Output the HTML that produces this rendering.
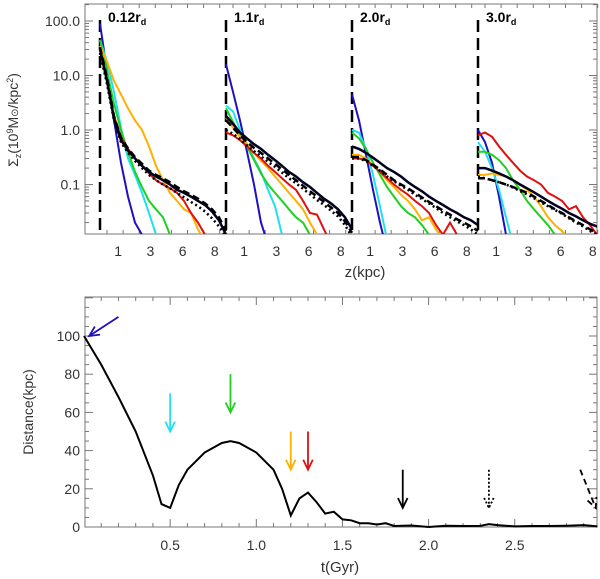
<!DOCTYPE html>
<html><head><meta charset="utf-8"><style>
body{margin:0;background:#fff;}
svg{display:block;font-family:"Liberation Sans",sans-serif;}
</style></head><body>
<svg id="fig" width="600" height="579" viewBox="0 0 600 579">
<g id="topPanel"></g>
<g id="botPanel"></g>
</svg>
<script>
// ---------- top panel data (z step 0.5 kpc, starting at z=0) ----------
const panelLabels = ['0.12', '1.1', '2.0', '3.0'];
const zTickVals = [1.3, 3.6, 5.9, 8.2];
const zTickLabels = ['1', '3', '6', '8'];
const yTickVals = [100, 10, 1, 0.1];
const yTickLabels = ['100.0', '10.0', '1.0', '0.1'];
const seriesColors = ['#2010c0', '#20e0f0', '#20d020', '#ffb000', '#e01010', '#000020', '#000', '#000'];
const seriesDash = ['', '', '', '', '', '', '7,4', '2,3'];
const p1 = [
 [90,12,1.5,0.25,0.06,0.02,0.012,0.008],
 [45,18,5,1.1,0.3,0.15,0.07,0.03,0.012,0.008],
 [45,12,3,1,0.4,0.17,0.09,0.05,0.035,0.025,0.012,0.008],
 [35,18,8,4.5,2.5,1.5,1.0,0.5,0.22,0.12,0.07,0.05,0.035,0.03,0.015,0.009],
 [30,8,1.8,0.75,0.45,0.3,0.22,0.16,0.12,0.1,0.085,0.07,0.05,0.03,0.02,0.012,0.009],
 [30,8,1.6,0.65,0.42,0.3,0.22,0.17,0.14,0.12,0.1,0.08,0.07,0.06,0.05,0.042,0.032,0.022,0.012],
 [33,9,1.8,0.72,0.46,0.32,0.24,0.18,0.15,0.13,0.11,0.09,0.075,0.065,0.055,0.045,0.035,0.025,0.014],
 [26,7,1.5,0.6,0.38,0.27,0.2,0.15,0.12,0.1,0.085,0.07,0.058,0.048,0.04,0.032,0.024,0.017,0.011]
];
const p2 = [
 [16,5,1.5,0.4,0.1,0.02,0.008],
 [2.8,2.2,1.0,0.55,0.3,0.17,0.08,0.04,0.012,0.008],
 [2.5,1.4,0.8,0.5,0.28,0.16,0.1,0.07,0.05,0.035,0.025,0.02,0.012,0.008],
 [1.7,1.1,0.75,0.55,0.38,0.27,0.2,0.14,0.1,0.07,0.05,0.035,0.02,0.012,0.008],
 [0.9,0.8,0.65,0.5,0.38,0.3,0.22,0.17,0.13,0.1,0.08,0.05,0.03,0.028,0.015,0.008],
 [1.8,1.3,0.9,0.7,0.55,0.45,0.35,0.28,0.22,0.17,0.14,0.11,0.09,0.07,0.055,0.045,0.035,0.025,0.015],
 [1.5,1.1,0.8,0.6,0.47,0.38,0.3,0.24,0.19,0.15,0.12,0.095,0.075,0.06,0.048,0.038,0.03,0.021,0.013],
 [1.0,0.85,0.68,0.52,0.41,0.33,0.26,0.21,0.165,0.13,0.105,0.083,0.066,0.052,0.042,0.033,0.026,0.018,0.011]
];
const p3 = [
 [4.5,1.5,0.35,0.08,0.02,0.006],
 [1.0,0.9,0.45,0.15,0.04,0.01,0.006],
 [0.9,0.7,0.45,0.25,0.15,0.09,0.06,0.04,0.03,0.025,0.018,0.012],
 [0.35,0.35,0.3,0.22,0.17,0.12,0.09,0.065,0.05,0.035,0.022,0.025,0.015,0.01],
 [0.3,0.3,0.28,0.22,0.17,0.13,0.1,0.08,0.065,0.05,0.04,0.03,0.018,0.012,0.02,0.012],
 [0.5,0.45,0.38,0.31,0.25,0.2,0.17,0.14,0.11,0.09,0.075,0.06,0.05,0.042,0.035,0.03,0.025,0.022,0.018],
 [0.32,0.32,0.28,0.23,0.19,0.15,0.12,0.1,0.085,0.07,0.058,0.048,0.04,0.033,0.028,0.023,0.02,0.017,0.014],
 [0.3,0.3,0.27,0.22,0.18,0.14,0.115,0.095,0.08,0.065,0.054,0.045,0.037,0.03,0.025,0.021,0.018,0.015,0.012]
];
const p4 = [
 [1.0,0.6,0.25,0.06,0.012,0.005],
 [0.6,0.4,0.2,0.08,0.025,0.008],
 [0.4,0.4,0.35,0.28,0.2,0.12,0.08,0.05,0.035,0.025,0.018,0.012,0.008],
 [0.15,0.15,0.16,0.15,0.14,0.12,0.1,0.08,0.06,0.04,0.025,0.018,0.014,0.01],
 [0.8,0.9,0.75,0.5,0.35,0.25,0.18,0.14,0.12,0.1,0.07,0.06,0.05,0.035,0.04,0.025,0.018,0.012],
 [0.2,0.2,0.18,0.16,0.14,0.12,0.1,0.085,0.072,0.06,0.05,0.042,0.036,0.03,0.026,0.022,0.019,0.017,0.015],
 [0.13,0.13,0.12,0.11,0.1,0.09,0.08,0.07,0.06,0.05,0.042,0.035,0.03,0.025,0.021,0.018,0.015,0.013,0.011],
 [0.14,0.13,0.12,0.11,0.1,0.088,0.076,0.066,0.056,0.047,0.04,0.034,0.029,0.024,0.02,0.017,0.014,0.012,0.01]
];
const panels = [p1, p2, p3, p4];
// ---------- bottom panel data ----------
const tVals = [0,0.1,0.2,0.3,0.4,0.45,0.5,0.55,0.6,0.7,0.8,0.85,0.9,1.0,1.1,1.15,1.2,1.25,1.3,1.35,1.4,1.45,1.5,1.55,1.6,1.65,1.7,1.75,1.8,1.9,2.0,2.1,2.2,2.3,2.35,2.4,2.5,2.6,2.7,2.8,2.9,2.98];
const dVals = [100,85,68,50,27,12,10,22,30,39,44,45,44,39,30,20,6,15,18,13,7,8,4,3.5,2,2,1.3,2,0.5,0.8,0,0.7,0.5,0.6,1.5,1,0.3,0.5,0.5,0.7,1,0.3];
const tTickVals = [0.5,1.0,1.5,2.0,2.5];
const tTickLabels = ['0.5','1.0','1.5','2.0','2.5'];
const dTickVals = [0,20,40,60,80,100];
const arrowT0 = [0.2,0.5,0.85,1.2,1.3,1.85,2.35,2.88];
const arrowD0 = [110,70,80,50,50,30,30,30];
const arrowT1 = [0.03,0.5,0.85,1.2,1.3,1.85,2.35,2.97];
const arrowD1 = [100,50,60,30,30,10,10,10];
const arrowColors = ['#2010c0','#20e0f0','#20d020','#ffb000','#e01010','#000','#000','#000'];
const arrowDash = ['','','','','','','2,2','6,4'];

const NS='http://www.w3.org/2000/svg';
function mk(tag, attrs, parent){const e=document.createElementNS(NS,tag);for(const k in attrs)e.setAttribute(k,attrs[k]);parent.appendChild(e);return e;}
const topG=document.getElementById('topPanel'), botG=document.getElementById('botPanel');
const AX='#777';
const TL=85,TR=597,TT=4,TB=234;
const yS=v=>130-54.5*Math.log10(v);
const panelX0=[100,226,352,478], zS=(p,z)=>panelX0[p]+z*14;
const defs=mk('defs',{},topG);
const cp=mk('clipPath',{id:'clipTop'},defs);mk('rect',{x:TL,y:TT,width:TR-TL,height:TB-TT},cp);
let fr=mk('rect',{x:TL,y:TT,width:TR-TL,height:TB-TT,fill:'none',stroke:AX,'stroke-width':1},topG);

for(let d=-2;d<=2;d++){for(let m=1;m<10;m++){const v=m*Math.pow(10,d);const y=yS(v);if(y<TT||y>TB)continue;const L=m===1?8:4;
 mk('line',{x1:TL,y1:y,x2:TL+L,y2:y,stroke:AX},topG);mk('line',{x1:TR,y1:y,x2:TR-L,y2:y,stroke:AX},topG);}}
yTickVals.forEach((v,i)=>{const t=mk('text',{x:80,y:yS(v)+5,'text-anchor':'end','font-size':14,fill:'#333'},topG);t.textContent=yTickLabels[i];
 });
const yt=mk('text',{transform:'translate(18,120) rotate(-90)','text-anchor':'middle','font-size':14,fill:'#333'},topG);
yt.innerHTML='Σ<tspan font-size="9" dy="3">z</tspan><tspan dy="-3">(10</tspan><tspan font-size="9" dy="-5">9</tspan><tspan dy="5">M</tspan><tspan font-size="10">⊙</tspan>/kpc<tspan font-size="9" dy="-5">2</tspan><tspan dy="5">)</tspan>';

for(let p=0;p<4;p++){
 for(let z=0.5;z<=9;z+=1.15){const x=zS(p,z);mk('line',{x1:x,y1:TB,x2:x,y2:TB-4,stroke:AX},topG);mk('line',{x1:x,y1:TT,x2:x,y2:TT+4,stroke:AX},topG);}
 zTickVals.forEach((v,i)=>{const t=mk('text',{x:zS(p,v),y:256,'text-anchor':'middle','font-size':14,fill:'#333'},topG);t.textContent=zTickLabels[i];
  });
 const dl=mk('line',{x1:panelX0[p],y1:20,x2:panelX0[p],y2:TB,stroke:'#000','stroke-width':2.5,'stroke-dasharray':'12,6'},topG);
 
 const lb=mk('text',{x:panelX0[p]+8,y:22,'font-size':14,'font-weight':'bold',fill:'#000'},topG);
 lb.innerHTML=panelLabels[p]+'r<tspan font-size="9" dy="3">d</tspan>';
 
 const g=mk('g',{'clip-path':'url(#clipTop)'},topG);
 panels[p].forEach((s,k)=>{const pts=s.map((v,j)=>zS(p,j*0.5).toFixed(1)+','+yS(v).toFixed(1)).join(' ');
  const pl=mk('polyline',{points:pts,fill:'none',stroke:seriesColors[k],'stroke-width':k>=5?2.5:2,'stroke-dasharray':seriesDash[k]},g);
  });
}
const xt=mk('text',{x:365,y:277,'text-anchor':'middle','font-size':15,fill:'#333'},topG);xt.textContent='z(kpc)';


const BL=85,BR=597,BT=297,BB=527;
const tS=t=>84+t*172.3, dS=d=>527-d*1.91;
const fb=mk('rect',{x:BL,y:BT,width:BR-BL,height:BB-BT,fill:'none',stroke:AX},botG);

for(let d=0;d<=120;d+=5){const y=dS(d);if(y<BT)continue;const L=d%20===0?8:4;mk('line',{x1:BL,y1:y,x2:BL+L,y2:y,stroke:AX},botG);mk('line',{x1:BR,y1:y,x2:BR-L,y2:y,stroke:AX},botG);}
for(let t=0.1;t<3;t+=0.1){const x=tS(t);const L=Math.abs(t*2-Math.round(t*2))<0.01?8:4;mk('line',{x1:x,y1:BB,x2:x,y2:BB-L,stroke:AX},botG);mk('line',{x1:x,y1:BT,x2:x,y2:BT+L,stroke:AX},botG);}
dTickVals.forEach(v=>{const t=mk('text',{x:80,y:dS(v)+5,'text-anchor':'end','font-size':14,fill:'#333'},botG);t.textContent=String(v);
 });
tTickVals.forEach((v,i)=>{const t=mk('text',{x:tS(v),y:550,'text-anchor':'middle','font-size':14,fill:'#333'},botG);t.textContent=tTickLabels[i];
 });
const bt=mk('text',{x:340,y:572,'text-anchor':'middle','font-size':15,fill:'#333'},botG);bt.textContent='t(Gyr)';

const by=mk('text',{transform:'translate(33,412) rotate(-90)','text-anchor':'middle','font-size':14,fill:'#333'},botG);by.textContent='Distance(kpc)';

const orbit=mk('polyline',{points:tVals.map((t,i)=>tS(t).toFixed(1)+','+dS(dVals[i]).toFixed(1)).join(' '),fill:'none',stroke:'#000','stroke-width':2},botG);

arrowT0.forEach((t0,i)=>{const x0=tS(t0),y0=dS(arrowD0[i]),x1=tS(arrowT1[i]),y1=dS(arrowD1[i]);
 const g=mk('g',{stroke:arrowColors[i],'stroke-width':1.8,fill:'none'},botG);
 
 mk('line',{x1:x0,y1:y0,x2:x1,y2:y1,'stroke-dasharray':arrowDash[i]},g);
 const a=Math.atan2(y1-y0,x1-x0),h=11;
 mk('polyline',{points:`${x1-h*Math.cos(a-0.45)},${y1-h*Math.sin(a-0.45)} ${x1},${y1} ${x1-h*Math.cos(a+0.45)},${y1-h*Math.sin(a+0.45)}`,'stroke-dasharray':arrowDash[i]},g);
});
</script>
</body></html>
